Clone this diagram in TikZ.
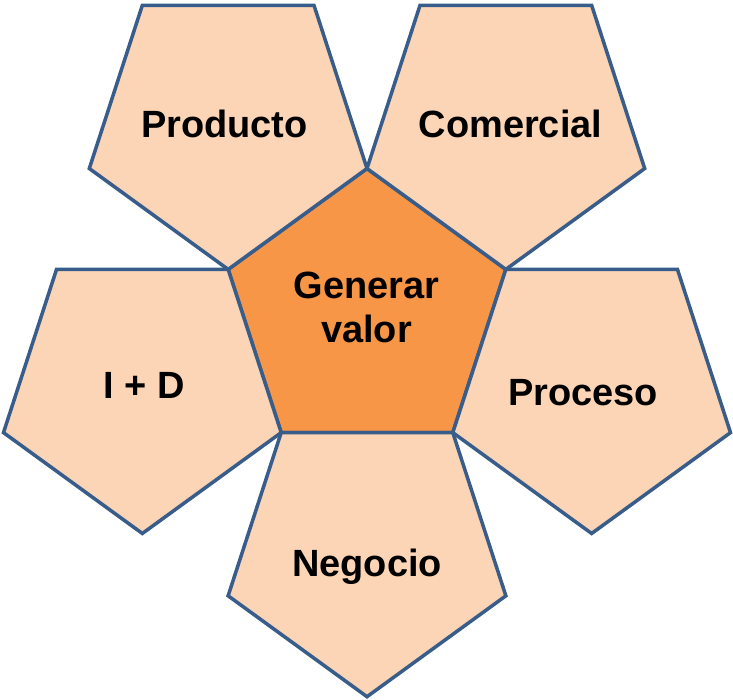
\documentclass[tikz,border=0pt]{standalone}
\usepackage{fontspec}
\setmainfont{Liberation Sans}
\usetikzlibrary{shapes.geometric}
\definecolor{peach}{HTML}{FBD5B5}
\definecolor{core}{HTML}{F79646}
\definecolor{rim}{HTML}{385D8A}
\tikzset{
  pent/.style={regular polygon, regular polygon sides=5, minimum size=5.84cm,
    inner sep=0pt, outer sep=0pt, draw=rim, line width=2pt},
  petal/.style={pent, fill=peach, shape border rotate=180},
  word/.style={anchor=base, align=center, inner sep=0pt,
    font=\bfseries\fontsize{21.6}{25.4}\selectfont}
}
\begin{document}
\begin{tikzpicture}
    \useasboundingbox (-7.34,-7.71) rectangle (7.32,6.29);
    \node [pent, fill=core] (valor) at (0,0) {};
    \node [petal] (producto) at (126:4.724) {};
    \node [petal] (comercial) at (54:4.724) {};
    \node [petal] (imasd) at (198:4.724) {};
    \node [petal] (proceso) at (342:4.724) {};
    \node [petal] (negocio) at (270:4.724) {};

    % texts
    \node [word] (valor-t) at (-0.01,-0.564) {Generar\\valor};
    \node [word] (producto-t) at (-2.85,3.53) {Producto};
    \node [word] (comercial-t) at (2.87,3.54) {Comercial};
    \node [word] (imasd-t) at (-4.45,-1.68) {I + D};
    \node [word] (proceso-t) at (4.32,-1.82) {Proceso};
    \node [word] (negocio-t) at (0,-5.24) {Negocio};
\end{tikzpicture}
\end{document}
